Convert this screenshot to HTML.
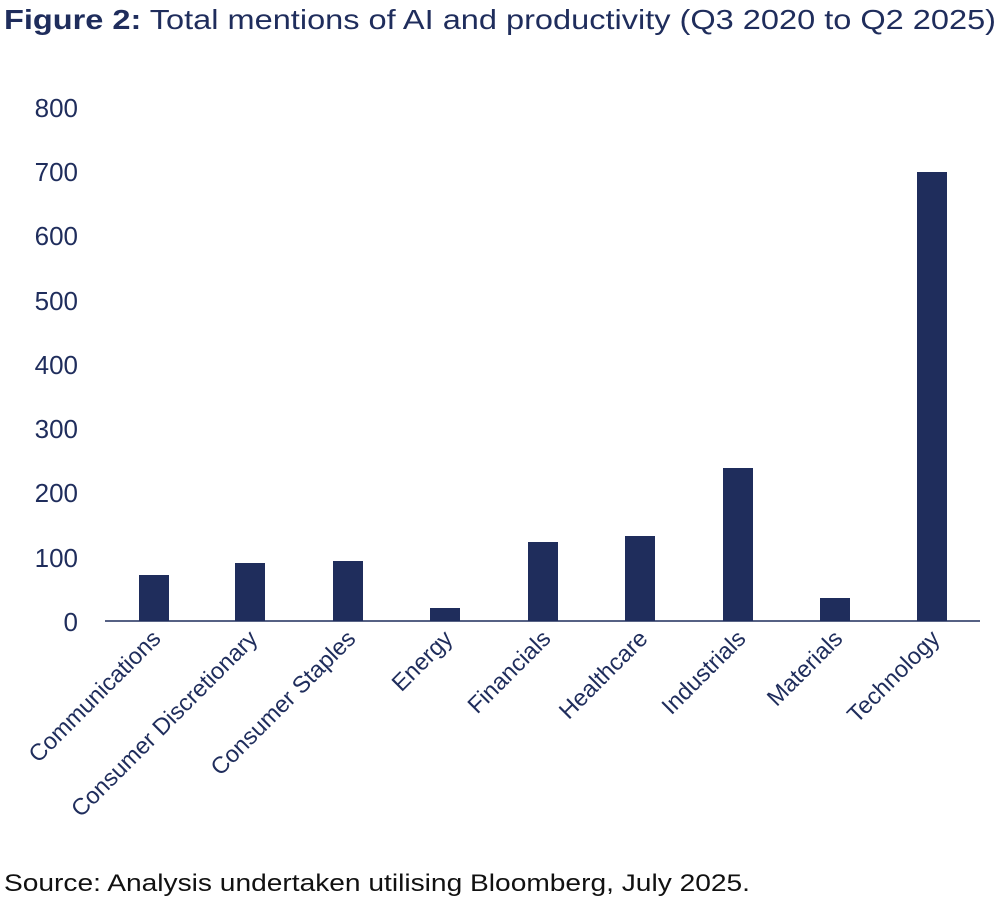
<!DOCTYPE html>
<html><head><meta charset="utf-8"><style>
body{margin:0;background:#fff;width:1000px;height:904px;overflow:hidden}
svg{display:block}
</style></head><body>
<svg width="1000" height="904" xmlns="http://www.w3.org/2000/svg" font-family="Liberation Sans, sans-serif">
<text x="4" y="29" font-size="28" fill="#1f2d5c" textLength="992" lengthAdjust="spacingAndGlyphs"><tspan font-weight="bold">Figure 2:</tspan> Total mentions of AI and productivity (Q3 2020 to Q2 2025)</text>
<g font-size="26" fill="#1f2d5c" text-anchor="end">
<text x="78" y="631">0</text>
<text x="78" y="567">100</text>
<text x="78" y="502">200</text>
<text x="78" y="438">300</text>
<text x="78" y="374">400</text>
<text x="78" y="310">500</text>
<text x="78" y="245">600</text>
<text x="78" y="181">700</text>
<text x="78" y="117">800</text>
</g>
<g fill="#1f2d5c">
<rect x="139" y="575" width="30" height="46"/>
<rect x="235" y="563" width="30" height="58"/>
<rect x="333" y="561" width="30" height="60"/>
<rect x="430" y="608" width="30" height="13"/>
<rect x="528" y="542" width="30" height="79"/>
<rect x="625" y="536" width="30" height="85"/>
<rect x="723" y="468" width="30" height="153"/>
<rect x="820" y="598" width="30" height="23"/>
<rect x="917" y="172" width="30" height="449"/>
</g>
<line x1="105" y1="621" x2="980" y2="621" stroke="#1f2d5c" stroke-width="1.5"/>
<g font-size="23.5" fill="#1f2d5c" text-anchor="end">
<text transform="translate(162,640) rotate(-45)">Communications</text>
<text transform="translate(259,640) rotate(-45)">Consumer Discretionary</text>
<text transform="translate(357,640) rotate(-45)">Consumer Staples</text>
<text transform="translate(454,640) rotate(-45)">Energy</text>
<text transform="translate(552,640) rotate(-45)">Financials</text>
<text transform="translate(649,640) rotate(-45)">Healthcare</text>
<text transform="translate(747,640) rotate(-45)">Industrials</text>
<text transform="translate(844,640) rotate(-45)">Materials</text>
<text transform="translate(941,640) rotate(-45)">Technology</text>
</g>
<text x="4" y="891" font-size="24" fill="#111" textLength="746" lengthAdjust="spacingAndGlyphs">Source: Analysis undertaken utilising Bloomberg, July 2025.</text>
</svg>
</body></html>
